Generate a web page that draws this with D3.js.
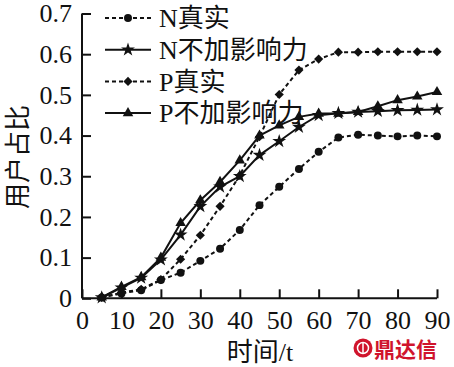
<!DOCTYPE html>
<html><head><meta charset="utf-8">
<script src="https://cdn.jsdelivr.net/npm/d3@7"></script>
<style>
html,body{margin:0;padding:0;background:#fff;}
svg{display:block;}
text{font-family:"Liberation Serif","Times New Roman","Noto Sans CJK SC",serif;fill:#111;}
</style></head>
<body>
<svg id="chart" width="454" height="367"></svg>
<script>
const times = [5,10,15,20,25,30,35,40,45,50,55,60,65,70,75,80,85,90];
const nReal = [0.002,0.012,0.02,0.045,0.063,0.092,0.122,0.168,0.229,0.274,0.318,0.36,0.395,0.402,0.400,0.398,0.400,0.398];
const nNoInf = [0.002,0.026,0.05,0.095,0.156,0.226,0.274,0.30,0.352,0.386,0.421,0.45,0.455,0.458,0.46,0.462,0.463,0.464];
const pReal = [0.002,0.014,0.022,0.046,0.096,0.155,0.226,0.302,0.397,0.501,0.561,0.588,0.605,0.605,0.606,0.606,0.606,0.606];
const pNoInf = [0.002,0.028,0.052,0.10,0.185,0.241,0.286,0.339,0.40,0.425,0.446,0.454,0.454,0.458,0.472,0.487,0.496,0.507];
const seriesNames = ["N真实","N不加影响力","P真实","P不加影响力"];
const xTicks = [0,10,20,30,40,50,60,70,80,90];
const yTicks = [0,0.1,0.2,0.3,0.4,0.5,0.6,0.7];
const xTitle = "时间/t";
const yTitle = "用户占比";
const watermarkText = "鼎达信";

const series = [
  {name: seriesNames[0], values: nReal, dashed: true, marker: "circle"},
  {name: seriesNames[1], values: nNoInf, dashed: false, marker: "star"},
  {name: seriesNames[2], values: pReal, dashed: true, marker: "diamond"},
  {name: seriesNames[3], values: pNoInf, dashed: false, marker: "triangle"}
];

const svg = d3.select("#chart");
const x = d3.scaleLinear().domain([0,90]).range([82,437]);
const y = d3.scaleLinear().domain([0,0.7]).range([298.3,13.5]);

const symbolMap = {
  circle: d3.symbol().type(d3.symbolCircle).size(50),
  star: d3.symbol().type(d3.symbolStar).size(60),
  diamond: d3.symbol().type(d3.symbolSquare).size(42),
  triangle: d3.symbol().type(d3.symbolTriangle).size(48)
};
function markerTransform(m, px, py){
  return m === "diamond" ? `translate(${px},${py}) rotate(45)` : `translate(${px},${py})`;
}

// axes
const xAxis = d3.axisBottom(x).tickValues(xTicks).tickSize(-9).tickPadding(12).tickFormat(d3.format("d"));
const yAxis = d3.axisLeft(y).tickValues(yTicks).tickSize(-9).tickPadding(10).tickFormat(d => d === 0 ? "0" : d3.format(".1f")(d));

const gx = svg.append("g").attr("transform", `translate(0,${y(0)})`).call(xAxis);
const gy = svg.append("g").attr("transform", `translate(${x(0)},0)`).call(yAxis);
[gx, gy].forEach(g => {
  g.select(".domain").attr("stroke","#111").attr("stroke-width",2);
  g.selectAll(".tick line").attr("stroke","#111").attr("stroke-width",2);
  g.selectAll(".tick text").attr("font-size",26).attr("fill","#111")
   .style("font-family","'Liberation Serif','Times New Roman',serif");
});
gx.select(".domain").attr("d", `M${x(0)},0H${x(90)}`);
gy.select(".domain").attr("d", `M0,${y(0)}V${y(0.7)}`);
gx.selectAll(".tick text").attr("dy","0.71em");

// lines
const line = d3.line().x((d,i) => x(times[i])).y(d => y(d));
series.forEach(s => {
  svg.append("path").datum(s.values)
    .attr("d", line).attr("fill","none").attr("stroke","#111")
    .attr("stroke-width",2)
    .attr("stroke-dasharray", s.dashed ? "4,3" : null);
  svg.append("g").selectAll("path").data(s.values).join("path")
    .attr("d", symbolMap[s.marker])
    .attr("transform", (d,i) => markerTransform(s.marker, x(times[i]), y(d)))
    .attr("fill","#111");
});

// legend
const leg = svg.append("g");
series.forEach((s,i) => {
  const cy = 18 + i*31.7;
  leg.append("line").attr("x1",105).attr("x2",151).attr("y1",cy).attr("y2",cy)
    .attr("stroke","#111").attr("stroke-width",2)
    .attr("stroke-dasharray", s.dashed ? "4,3" : null);
  leg.append("path").attr("d", symbolMap[s.marker])
    .attr("transform", markerTransform(s.marker,128,cy)).attr("fill","#111");
  leg.append("text").attr("x",159).attr("y",cy).attr("dy","0.36em")
    .attr("font-size",26).text(s.name);
});

// axis titles
svg.append("text").attr("x",260).attr("y",352).attr("text-anchor","middle")
  .attr("dy","0.36em").attr("font-size",26).text(xTitle);
svg.append("text").attr("transform","translate(18,157) rotate(-90)")
  .attr("text-anchor","middle").attr("dy","0.36em").attr("font-size",26).text(yTitle);

// watermark
const wm = svg.append("g");
wm.append("circle").attr("cx",363).attr("cy",348).attr("r",9.5).attr("fill","#d0142c");
wm.append("circle").attr("cx",363).attr("cy",348).attr("r",5.5).attr("fill","none")
  .attr("stroke","#fff").attr("stroke-width",1.5);
wm.append("line").attr("x1",363).attr("x2",363).attr("y1",343).attr("y2",353)
  .attr("stroke","#fff").attr("stroke-width",1.5);
wm.append("text").attr("x",374).attr("y",349).attr("dy","0.36em")
  .attr("font-size",21).style("fill","#d0142c").style("font-weight","bold")
  .style("font-family","'Noto Sans CJK SC',sans-serif").text(watermarkText);
</script>
</body></html>
